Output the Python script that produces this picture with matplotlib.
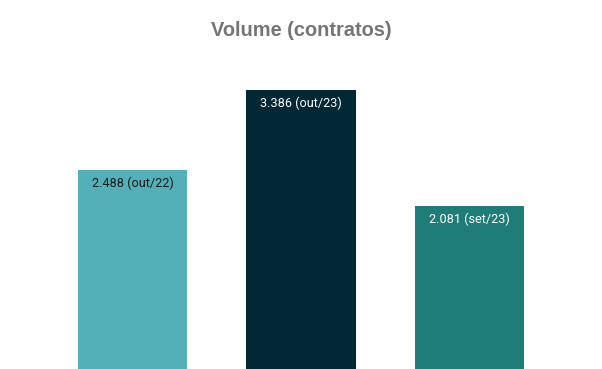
import matplotlib.pyplot as plt

periods = ['out/22', 'out/23', 'set/23']
volumes = [2488, 3386, 2081]
bar_colors = ['#53B0B8', '#022735', '#1F7D79']
text_colors = ['#1a1a1a', '#ffffff', '#ffffff']

fig = plt.figure(figsize=(6.02, 3.69), dpi=100)
ax = fig.add_axes([0, -0.0623, 1, 0.918])

x = range(len(volumes))
ax.bar(x, volumes, width=0.647, color=bar_colors)

for i, (v, p) in enumerate(zip(volumes, periods)):
    label = f"{v / 1000:.3f} ({p})"
    ax.annotate(label, (i, v), xytext=(0, -13), textcoords='offset pixels',
                ha='center', va='center', fontsize=9.1, family='Roboto',
                color=text_colors[i])

ax.set_xlim(-0.786, 2.786)
ax.set_ylim(0, 3800)
ax.axis('off')

fig.text(0.5, 1 - 30.5 / 369, 'Volume (contratos)', ha='center', va='center',
         fontsize=14.4, fontweight='bold', family='Liberation Sans', color='#757575')

fig.savefig('out.png', dpi=100)
